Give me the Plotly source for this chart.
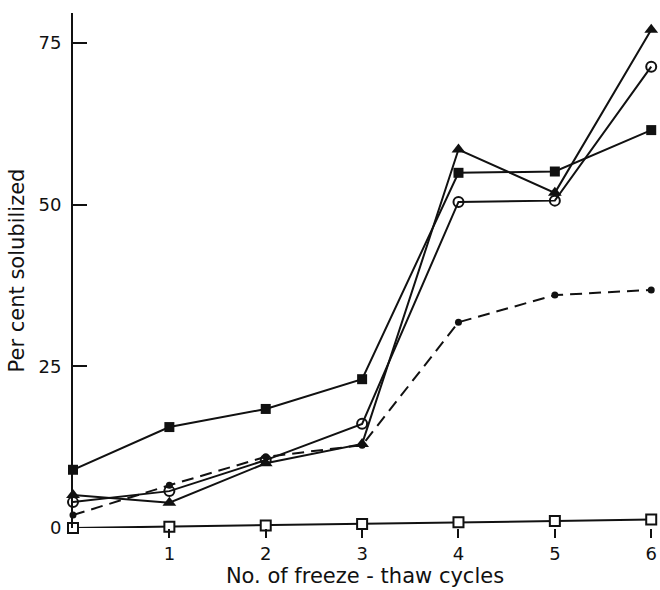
import plotly.graph_objects as go

# Freeze-thaw cycles and per cent solubilized for each preparation
cycles = [0, 1, 2, 3, 4, 5, 6]
filled_square = [9.0, 15.6, 18.4, 23.0, 54.9, 55.1, 61.5]
filled_triangle = [5.1, 3.9, 10.0, 13.0, 58.5, 51.8, 77.0]
open_circle = [4.0, 5.7, 10.5, 16.1, 50.4, 50.6, 71.3]
small_dot = [2.0, 6.6, 11.0, 12.8, 31.8, 36.0, 36.8]
open_square = [0.0, 0.2, 0.4, 0.6, 0.9, 1.1, 1.3]

x_ticks = [1, 2, 3, 4, 5, 6]
y_ticks = [0, 25, 50, 75]

BLACK = "#111111"
FONT = "DejaVu Sans, Verdana, sans-serif"

series = [
    (filled_square, dict(symbol="square", size=10, color=BLACK), "solid"),
    (filled_triangle, dict(symbol="triangle-up", size=12, color=BLACK), "solid"),
    (open_circle, dict(symbol="circle-open", size=10, color=BLACK, line=dict(width=2)), "solid"),
    (small_dot, dict(symbol="circle", size=7, color=BLACK), "dash"),
    (open_square, dict(symbol="square", size=10, color="white", line=dict(color=BLACK, width=2)), "solid"),
]

fig = go.Figure()
for ys, marker, dash in series:
    fig.add_trace(go.Scatter(
        x=cycles, y=ys, mode="lines+markers",
        line=dict(color=BLACK, width=2, dash="12px,7px" if dash == "dash" else "solid"),
        marker=marker, cliponaxis=False, showlegend=False,
    ))

fig.update_layout(
    width=660, height=590,
    margin=dict(l=73, r=3, t=13, b=62),
    paper_bgcolor="white", plot_bgcolor="white",
    font=dict(family=FONT, color=BLACK, size=18),
    xaxis=dict(
        range=[0, 6.06], tickvals=x_ticks, ticktext=[str(v) for v in x_ticks],
        ticks="outside", ticklen=9, tickwidth=2, tickcolor=BLACK,
        showline=False, showgrid=False, zeroline=False,
        tickfont=dict(size=18),
        title=dict(text="No. of freeze - thaw cycles", font=dict(size=21), standoff=4),
    ),
    yaxis=dict(
        range=[0, 79.6], tickvals=y_ticks, ticktext=[str(v) for v in y_ticks],
        ticks="inside", ticklen=14, tickwidth=2, tickcolor=BLACK,
        showline=True, linecolor=BLACK, linewidth=2,
        showgrid=False, zeroline=False,
        tickfont=dict(size=18), ticklabelstandoff=6,
        title=dict(text="Per cent solubilized", font=dict(size=21), standoff=8),
    ),
)

fig.write_html("out.html")
